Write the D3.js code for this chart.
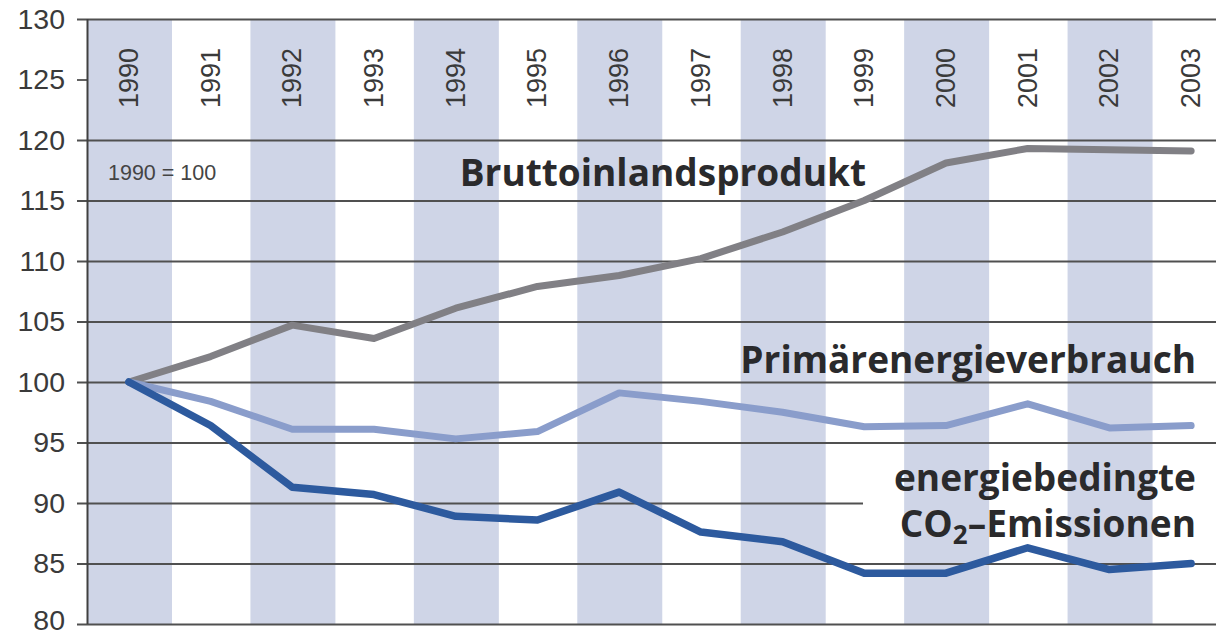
<!DOCTYPE html>
<html>
<head>
<meta charset="utf-8">
<script src="https://cdn.jsdelivr.net/npm/d3@7"></script>
<style>
  html, body { margin: 0; padding: 0; background: #fff; }
  svg { display: block; }
</style>
</head>
<body>
<div id="chart"></div>
<script>
const years = [1990, 1991, 1992, 1993, 1994, 1995, 1996, 1997, 1998, 1999, 2000, 2001, 2002, 2003]
const bip = [100, 102.1, 104.7, 103.6, 106.1, 107.9, 108.8, 110.2, 112.4, 115.0, 118.1, 119.3, 119.2, 119.1]
const primaer = [100, 98.4, 96.1, 96.1, 95.3, 95.9, 99.1, 98.4, 97.5, 96.3, 96.4, 98.2, 96.2, 96.4]
const co2 = [100, 96.4, 91.3, 90.7, 88.9, 88.6, 90.9, 87.6, 86.8, 84.2, 84.2, 86.3, 84.5, 85.0]
const yTicks = [80, 85, 90, 95, 100, 105, 110, 115, 120, 125, 130]

const W = 1216, H = 634
const MARGIN = { TOP: 19, BOTTOM: 10, LEFT: 88, RIGHT: -16 }

const svg = d3.select("#chart")
  .append("svg")
    .attr("width", W)
    .attr("height", H)

const x = d3.scaleBand()
  .domain(years)
  .range([MARGIN.LEFT, W - MARGIN.RIGHT])
  .padding(0)

const y = d3.scaleLinear()
  .domain([80, 130])
  .range([H - MARGIN.BOTTOM, MARGIN.TOP])

const bw = x.bandwidth()
const cx = d => x(d) + bw / 2

// shaded columns for even years
svg.append("g")
  .selectAll("rect")
  .data(years.filter(d => d % 2 === 0))
  .enter().append("rect")
    .attr("x", d => x(d) - 1)
    .attr("y", y(130))
    .attr("width", bw * 1.04)
    .attr("height", y(80) - y(130))
    .attr("fill", "#cfd5e7")

// y axis with gridlines (125 only gets a tick, the year row sits there)
const yAxis = d3.axisLeft(y)
  .tickValues(yTicks)
  .tickSize(-(W - MARGIN.LEFT + 10))
  .tickPadding(14)

const gy = svg.append("g")
  .attr("transform", `translate(${MARGIN.LEFT - 11}, 0)`)
  .call(yAxis)

gy.select(".domain").remove()
gy.selectAll(".tick line")
  .attr("stroke", "#505050")
  .attr("stroke-width", 1.8)
  .attr("x1", 0)
  .attr("x2", d => d === 125 ? 11 : d === 90 ? 863 - MARGIN.LEFT + 11 : W)
gy.selectAll(".tick text")
  .attr("font-family", "'Liberation Sans', Arial, sans-serif")
  .attr("font-size", 28.5)
  .attr("fill", "#3a3a3a")
  .attr("x", -12)
  .attr("dy", d => d === 80 ? "0.18em" : "0.32em")

// vertical axis line
svg.append("line")
  .attr("x1", MARGIN.LEFT - 0.5)
  .attr("x2", MARGIN.LEFT - 0.5)
  .attr("y1", y(130))
  .attr("y2", y(80))
  .attr("stroke", "#404040")
  .attr("stroke-width", 2)

// year labels
svg.append("g")
  .selectAll("text")
  .data(years)
  .enter().append("text")
    .attr("transform", d => `translate(${cx(d) + 9}, 78) rotate(-90)`)
    .attr("text-anchor", "middle")
    .attr("font-family", "'Liberation Sans', Arial, sans-serif")
    .attr("font-size", 27)
    .attr("fill", "#3a3a3a")
    .text(d => d)

svg.append("text")
  .attr("x", 108)
  .attr("y", 180)
  .attr("font-family", "'Liberation Sans', Arial, sans-serif")
  .attr("font-size", 21.5)
  .attr("fill", "#444")
  .text("1990 = 100")

// lines
const series = [
  { name: "bip", values: bip, color: "#818085", width: 7 },
  { name: "primaer", values: primaer, color: "#8a9dcb", width: 7 },
  { name: "co2", values: co2, color: "#2d5a9e", width: 7.5 }
]

const line = d3.line()
  .x((d, i) => cx(years[i]))
  .y(d => y(d))

svg.append("g")
  .selectAll("path")
  .data(series)
  .enter().append("path")
    .attr("d", d => line(d.values))
    .attr("fill", "none")
    .attr("stroke", d => d.color)
    .attr("stroke-width", d => d.width)
    .attr("stroke-linejoin", "round")
    .attr("stroke-linecap", "round")

// series labels
const labels = svg.append("g")
  .attr("font-family", "'Open Sans', 'Noto Sans', sans-serif")
  .attr("font-weight", 700)
  .attr("fill", "#2a2a2c")
  .attr("font-size", 37)
  .attr("text-anchor", "end")

labels.append("text")
  .attr("x", 866)
  .attr("y", 186)
  .text("Bruttoinlandsprodukt")

labels.append("text")
  .attr("x", 1196)
  .attr("y", 373)
  .text("Primärenergieverbrauch")

labels.append("text")
  .attr("x", 1196)
  .attr("y", 491)
  .text("energiebedingte")

const co2Label = labels.append("text")
  .attr("x", 1196)
  .attr("y", 537)
co2Label.append("tspan").text("CO")
co2Label.append("tspan").attr("font-size", 26).attr("dy", 7).text("2")
co2Label.append("tspan").attr("dy", -7).text("–Emissionen")
</script>
</body>
</html>
